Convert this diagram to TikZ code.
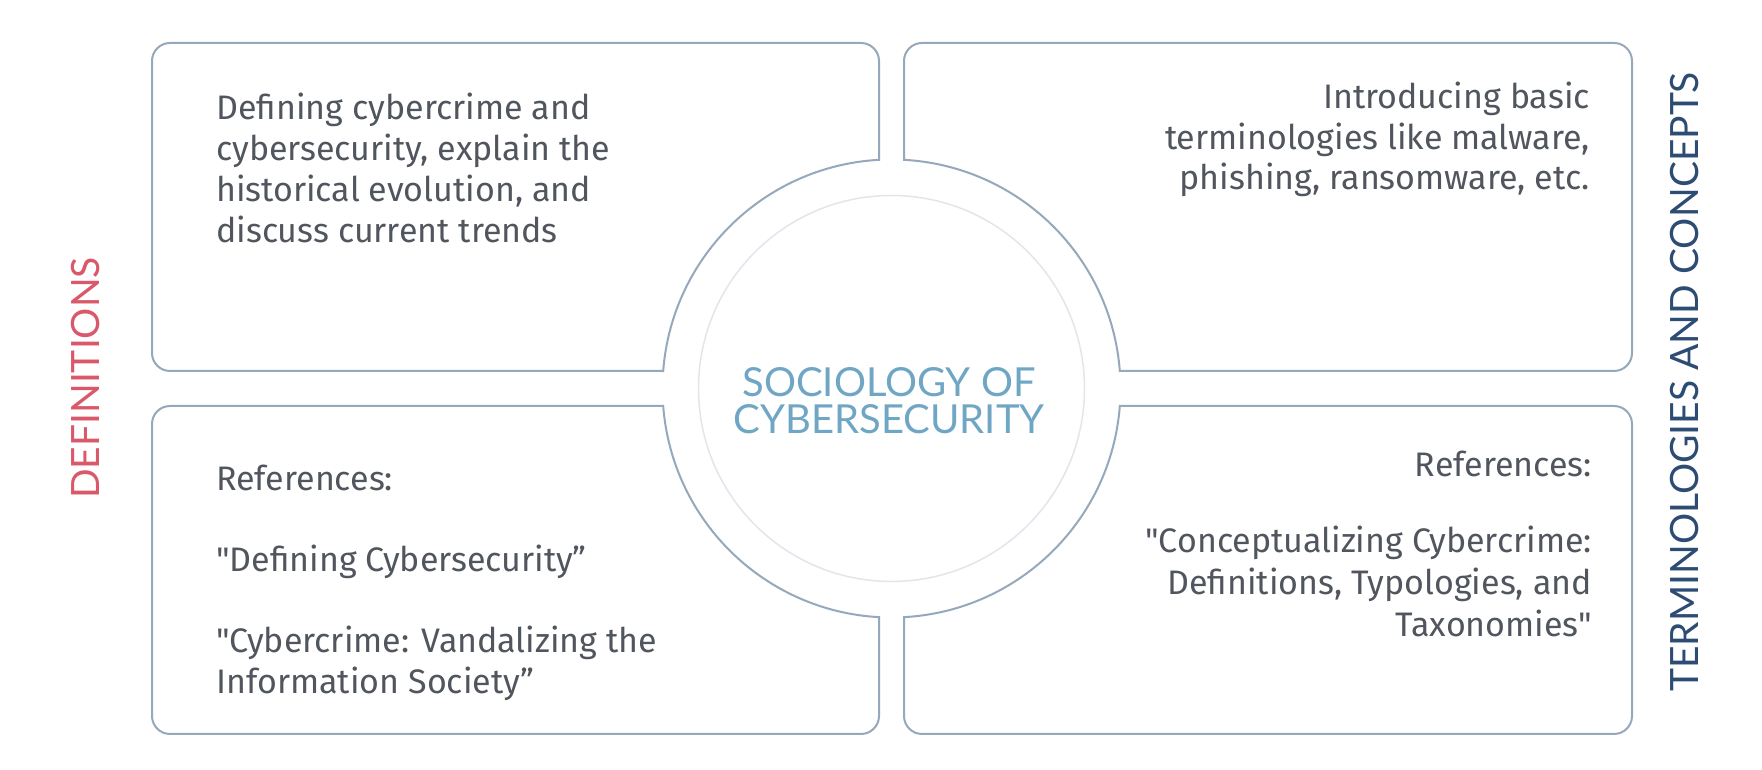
\documentclass[tikz,border=0pt]{standalone}
\usepackage{fontspec}
\setmainfont{Fira Sans}[Ligatures=TeXOff]
\newfontfamily\latofont{Lato}
\definecolor{bordercol}{RGB}{150,168,188}
\definecolor{innercol}{RGB}{226,230,236}
\definecolor{bodycol}{RGB}{80,85,94}
\definecolor{titlecol}{RGB}{111,166,196}
\definecolor{defcol}{RGB}{217,88,106}
\definecolor{termcol}{RGB}{45,76,115}
\tikzset{
  quadbox/.style={draw=bordercol, line width=2pt, fill=white, line join=miter},
  bodytext/.style={font=\fontsize{34}{40}\selectfont, text=bodycol, inner sep=0pt},
  titletext/.style={font=\latofont\fontsize{40}{40}\selectfont, text=titlecol, inner sep=0pt},
  sidetext/.style={font=\latofont\fontsize{39}{39}\selectfont, inner sep=0pt, rotate=90, anchor=base},
}
\begin{document}
\begin{tikzpicture}[x=1pt,y=1pt]
\useasboundingbox (0,0) rectangle (1762,770);
\fill[white] (0,0) rectangle (1762,770);
% quadrant boxes with circular cut-out
\draw[quadbox] (663.17,399) -- (170,399) arc[start angle=270,end angle=180,radius=18]
  -- (152,709) arc[start angle=180,end angle=90,radius=18]
  -- (861,727) arc[start angle=90,end angle=0,radius=18]
  -- (879,610.16) arc[start angle=93.13,end angle=175.62,radius=229] -- cycle;
\draw[quadbox] (1119.83,399) -- (1614,399) arc[start angle=270,end angle=360,radius=18]
  -- (1632,709) arc[start angle=0,end angle=90,radius=18]
  -- (922,727) arc[start angle=90,end angle=180,radius=18]
  -- (904,610.16) arc[start angle=86.87,end angle=4.38,radius=229] -- cycle;
\draw[quadbox] (663.17,364) -- (170,364) arc[start angle=90,end angle=180,radius=18]
  -- (152,54) arc[start angle=180,end angle=270,radius=18]
  -- (861,36) arc[start angle=270,end angle=360,radius=18]
  -- (879,152.84) arc[start angle=266.87,end angle=184.38,radius=229] -- cycle;
\draw[quadbox] (1119.83,364) -- (1614,364) arc[start angle=90,end angle=0,radius=18]
  -- (1632,54) arc[start angle=0,end angle=-90,radius=18]
  -- (922,36) arc[start angle=270,end angle=180,radius=18]
  -- (904,152.84) arc[start angle=273.13,end angle=355.62,radius=229] -- cycle;
% inner circle
\node[circle, draw=innercol, line width=1.5pt, minimum size=386pt, inner sep=0pt] (center) at (891.5,381.5) {};
\node[titletext, anchor=base] (title1) at (889,373) {SOCIOLOGY OF};
\node[titletext, anchor=base] (title2) at (889,336) {CYBERSECURITY};
% side labels
\node[sidetext, text=defcol] (deflabel) at (99,392) {DEFINITIONS};
\node[sidetext, text=termcol] (termlabel) at (1698,388) {TERMINOLOGIES AND CONCEPTS};
% top-left text
\node[bodytext, anchor=base west] (tl1) at (216,650) {Defining cybercrime and};
\node[bodytext, anchor=base west] (tl2) at (216,609) {cybersecurity, explain the};
\node[bodytext, anchor=base west] (tl3) at (216,568) {historical evolution, and};
\node[bodytext, anchor=base west] (tl4) at (216,527) {discuss current trends};
% top-right text
\node[bodytext, anchor=base east] (tr1) at (1590,661) {Introducing basic};
\node[bodytext, anchor=base east] (tr2) at (1590,620) {terminologies like malware,};
\node[bodytext, anchor=base east] (tr3) at (1590,580) {phishing, ransomware, etc.};
% bottom-left text
\node[bodytext, anchor=base west] (bl1) at (216,279) {References:};
\node[bodytext, anchor=base west] (bl2) at (216,198) {"Defining Cybersecurity”};
\node[bodytext, anchor=base west] (bl3) at (216,117) {"Cybercrime: Vandalizing the};
\node[bodytext, anchor=base west] (bl4) at (216,76) {Information Society”};
% bottom-right text
\node[bodytext, anchor=base east] (br1) at (1592,293) {References:};
\node[bodytext, anchor=base east] (br2) at (1592,217) {"Conceptualizing Cybercrime:};
\node[bodytext, anchor=base east] (br3) at (1592,175) {Definitions, Typologies, and};
\node[bodytext, anchor=base east] (br4) at (1592,133) {Taxonomies"};
\end{tikzpicture}
\end{document}
